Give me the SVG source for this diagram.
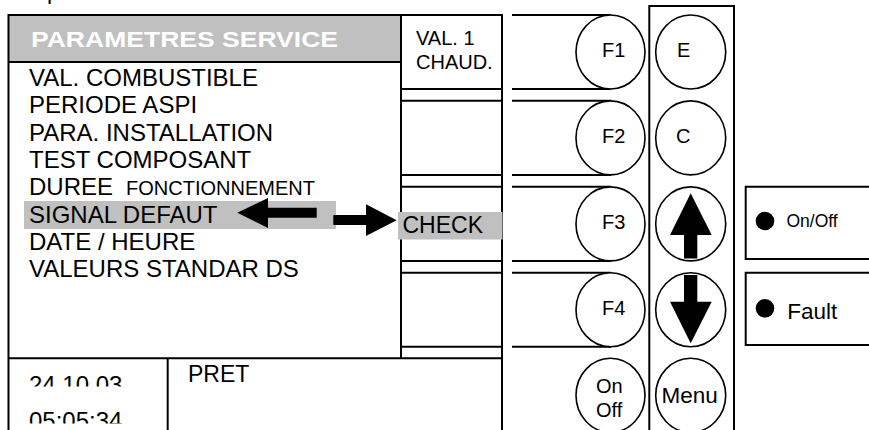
<svg xmlns="http://www.w3.org/2000/svg" width="869" height="430" viewBox="0 0 869 430">
<style>
text{font-family:"Liberation Sans",Arial,Helvetica,sans-serif;fill:#000}
.ln{stroke:#000;stroke-width:2;fill:none}
.ci{stroke:#000;stroke-width:1.6;fill:#fff}
.gray{fill:#c0c0c0}
.t23{font-size:23px}
.t24{font-size:24px}
.t20{font-size:20px}
.key{font-size:20px}
.hd{font-size:21.5px;font-weight:bold;fill:#fff}
</style>
<defs>
<clipPath id="cDate"><rect x="9" y="359" width="158" height="27.5"/></clipPath>
<clipPath id="cTime"><rect x="9" y="395" width="158" height="28.5"/></clipPath>
</defs>
<rect width="869" height="430" fill="#fff"/>
<text class="t23" x="47" y="-1">p</text>

<g id="screen">
  <rect class="gray" x="9" y="15" width="392.5" height="47"/>
  <line class="ln" x1="8.5" y1="62" x2="401.5" y2="62"/>
  <text class="hd" x="31" y="47" textLength="307" lengthAdjust="spacingAndGlyphs">PARAMETRES SERVICE</text>
  <rect class="gray" x="24" y="201" width="312" height="28"/>
  <text class="t24" x="29" y="86">VAL. COMBUSTIBLE</text>
  <text class="t24" x="29" y="113.3">PERIODE ASPI</text>
  <text class="t24" x="29" y="140.6">PARA. INSTALLATION</text>
  <text class="t24" x="29" y="167.9">TEST COMPOSANT</text>
  <text class="t24" x="29" y="195.2">DUREE <tspan font-size="20" x="126">FONCTIONNEMENT</tspan></text>
  <text class="t24" x="29" y="222.5">SIGNAL DEFAUT</text>
  <text class="t24" x="29" y="249.8">DATE / HEURE</text>
  <text class="t24" x="29" y="277.1">VALEURS STANDAR DS</text>
  <line class="ln" x1="8.5" y1="15" x2="502" y2="15"/>
  <line class="ln" x1="8.5" y1="14" x2="8.5" y2="430"/>
  <line class="ln" x1="401" y1="15" x2="401" y2="358"/>
  <line class="ln" x1="502" y1="14" x2="502" y2="430"/>
  <line class="ln" x1="8.5" y1="358.3" x2="502" y2="358.3"/>
  <line class="ln" x1="167.7" y1="358" x2="167.7" y2="430"/>
  <text class="t24" x="29" y="392.5" clip-path="url(#cDate)">24.10.03</text>
  <text class="t24" x="29" y="429" clip-path="url(#cTime)">05:05:34</text>
  <text class="t23" x="188" y="381.7">PRET</text>
</g>

<g id="softkeys">
  <line class="ln" x1="401" y1="89" x2="502" y2="89"/>
  <line class="ln" x1="401" y1="100.7" x2="502" y2="100.7"/>
  <line class="ln" x1="401" y1="175" x2="502" y2="175"/>
  <line class="ln" x1="401" y1="186.7" x2="502" y2="186.7"/>
  <line class="ln" x1="401" y1="261" x2="502" y2="261"/>
  <line class="ln" x1="401" y1="272.7" x2="502" y2="272.7"/>
  <line class="ln" x1="401" y1="346.7" x2="502" y2="346.7"/>
  <text class="t20" x="416" y="45">VAL. 1</text>
  <text class="t20" x="416" y="68.5">CHAUD.</text>
  <rect class="gray" x="398" y="212" width="104.5" height="27.5"/>
  <text class="t23" x="402.5" y="232.7">CHECK</text>
</g>

<g id="F1">
  <line class="ln" x1="512" y1="15" x2="611" y2="15"/>
  <line class="ln" x1="512" y1="89" x2="611" y2="89"/>
  <ellipse class="ci" cx="610.5" cy="52" rx="34.5" ry="37"/>
  <text class="key" x="602" y="57.3">F1</text>
</g>
<g id="F2">
  <line class="ln" x1="512" y1="100.7" x2="611" y2="100.7"/>
  <line class="ln" x1="512" y1="175" x2="611" y2="175"/>
  <ellipse class="ci" cx="610.5" cy="137.9" rx="34.5" ry="37"/>
  <text class="key" x="602" y="143.2">F2</text>
</g>
<g id="F3">
  <line class="ln" x1="512" y1="186.7" x2="611" y2="186.7"/>
  <line class="ln" x1="512" y1="261" x2="611" y2="261"/>
  <ellipse class="ci" cx="610.5" cy="223.9" rx="34.5" ry="37"/>
  <text class="key" x="602" y="229.2">F3</text>
</g>
<g id="F4">
  <line class="ln" x1="512" y1="272.7" x2="611" y2="272.7"/>
  <line class="ln" x1="512" y1="346.7" x2="611" y2="346.7"/>
  <ellipse class="ci" cx="610.5" cy="309.7" rx="34.5" ry="37"/>
  <text class="key" x="602" y="315">F4</text>
</g>
<g id="OnOff">
  <ellipse class="ci" cx="610.5" cy="395.3" rx="34.5" ry="37"/>
  <text class="key" x="596" y="393.3">On</text>
  <text class="key" x="596" y="416.7">Off</text>
</g>

<g id="navpanel">
  <rect class="ln" x="649.3" y="6" width="84.7" height="430"/>
</g>
<g id="E">
  <ellipse class="ci" cx="690.7" cy="52" rx="35" ry="37"/>
  <text class="key" x="677" y="57.3">E</text>
</g>
<g id="C">
  <ellipse class="ci" cx="690.7" cy="137.9" rx="35" ry="37"/>
  <text class="key" x="676" y="143.2">C</text>
</g>
<g id="Up">
  <ellipse class="ci" cx="690.7" cy="223.9" rx="35" ry="37"/>
  <polygon points="690.7,193.3 711.7,235 670,235" fill="#000"/>
  <rect x="684" y="234" width="13.3" height="24.5" fill="#000"/>
</g>
<g id="Down">
  <ellipse class="ci" cx="690.7" cy="309.7" rx="35" ry="37"/>
  <rect x="684" y="275" width="13.3" height="27.5" fill="#000"/>
  <polygon points="670,301.7 711.7,301.7 690.7,343.3" fill="#000"/>
</g>
<g id="Menu">
  <ellipse class="ci" cx="690.7" cy="395.3" rx="35" ry="37"/>
  <text x="661.5" y="403.3" font-size="22.5">Menu</text>
</g>

<g id="ledOnOff">
  <path class="ln" d="M872,186.7 H745.7 V259 H872"/>
  <circle cx="765" cy="221" r="9.3" fill="#000"/>
  <text x="786.5" y="227.3" font-size="17.5">On/Off</text>
</g>
<g id="ledFault">
  <path class="ln" d="M872,272.7 H745.7 V345 H872"/>
  <circle cx="765" cy="308.3" r="9.3" fill="#000"/>
  <text x="787.3" y="319" font-size="22.5">Fault</text>
</g>

<g id="connectors">
  <path d="M237.3,212.7 L268,198 L268,207.7 L316.7,207.7 L316.7,217.7 L268,217.7 L268,228 Z" fill="#000"/>
  <path d="M333.3,215 L366,215 L366,204.3 L396.7,220.2 L366,236 L366,225 L333.3,225 Z" fill="#000"/>
</g>
</svg>
